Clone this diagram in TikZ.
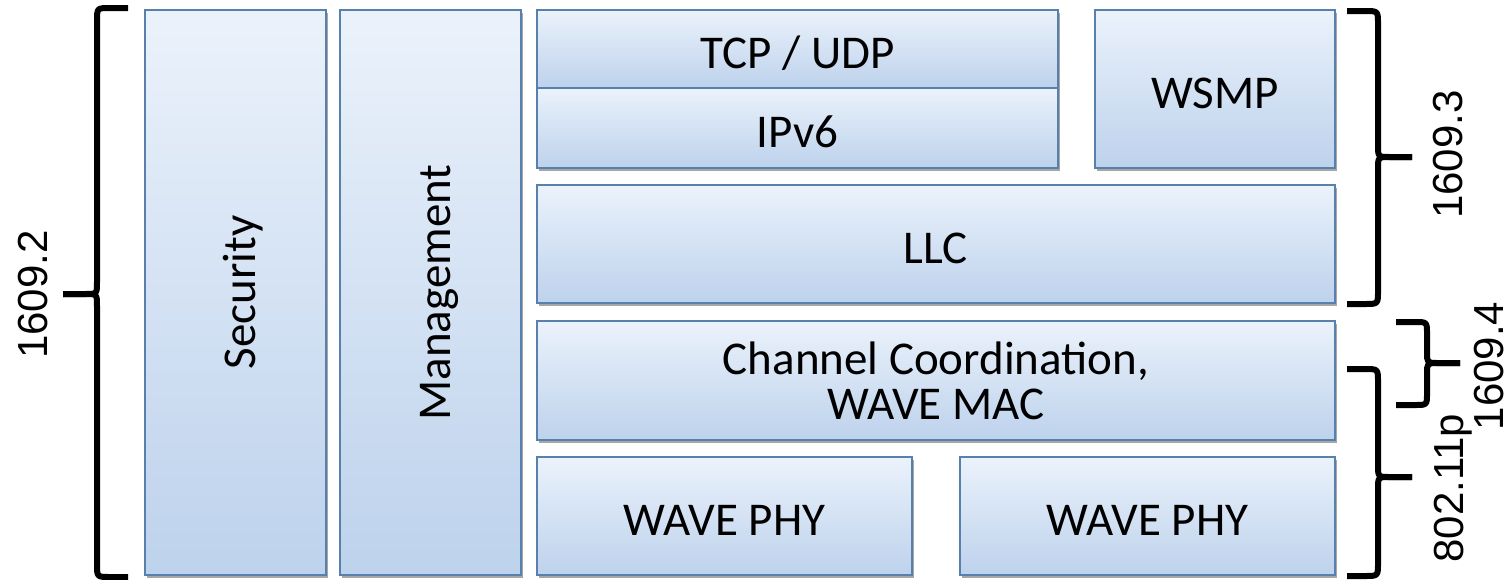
\documentclass[tikz,border=0pt]{standalone}
\usepackage{fontspec}
\setmainfont{Carlito}
\newfontfamily\labfont{Liberation Sans}
\usetikzlibrary{shadows}
\definecolor{boxtop}{RGB}{235,242,251}
\definecolor{boxbot}{RGB}{189,210,236}
\definecolor{boxline}{RGB}{88,128,172}
\newcommand\lyrtext[1]{\rule[-0.05em]{0pt}{0.95em}\smash{#1}}
\tikzset{
  layer/.style={draw=boxline, line width=1.8pt, top color=boxtop, bottom color=boxbot,
    inner sep=0pt, align=center, font=\fontsize{47}{45}\selectfont,
    drop shadow={shadow xshift=2pt, shadow yshift=-3pt, opacity=0.35, fill=black}},
  stdlabel/.style={font=\labfont\fontsize{42}{42}\selectfont, rotate=90, anchor=base, inner sep=0pt},
  bracefig/.style={line width=6pt, line join=round, line cap=butt}
}
\begin{document}
\begin{tikzpicture}[x=1pt,y=-1pt]
\useasboundingbox (0,0) rectangle (1509,579);
\fill[white] (0,0) rectangle (1509,579);
% boxes
\node[layer, minimum width=181pt, minimum height=565pt] (sec) at (235.5,292.5) {\rotatebox{90}{\lyrtext{Security}}};
\node[layer, minimum width=181pt, minimum height=565pt] (mgmt) at (430.5,292.5) {\rotatebox{90}{\lyrtext{Management}}};
\node[layer, minimum width=521pt, minimum height=78pt] (tcp) at (797.5,49) {\lyrtext{TCP / UDP}};
\node[layer, minimum width=521pt, minimum height=80pt] (ipv6) at (797.5,128) {\lyrtext{IPv6}};
\node[layer, minimum width=240pt, minimum height=158pt] (wsmp) at (1215,89) {\lyrtext{WSMP}};
\node[layer, minimum width=798pt, minimum height=118pt] (llc) at (936,244) {\lyrtext{LLC}};
\node[layer, minimum width=798pt, minimum height=119pt] (chan) at (936,380.5) {Channel Coordination,\\WAVE MAC};
\node[layer, minimum width=375pt, minimum height=118pt] (phya) at (724.5,516) {\lyrtext{WAVE PHY}};
\node[layer, minimum width=375pt, minimum height=118pt] (phyb) at (1147.5,516) {\lyrtext{WAVE PHY}};
% left brace 1609.2
\draw[bracefig] (128,8) -- (110,8) .. controls (97,8) .. (97,21) -- (97,282)
  .. controls (97,294) .. (85,294) -- (63,294);
\draw[bracefig] (63,294) -- (85,294) .. controls (97,294) .. (97,306) -- (97,564)
  .. controls (97,577) .. (110,577) -- (128,577);
% right brace 1609.3
\draw[bracefig] (1347,11) -- (1365,11) .. controls (1378,11) .. (1378,24) -- (1378,145)
  .. controls (1378,157) .. (1390,157) -- (1412,157);
\draw[bracefig] (1412,157) -- (1390,157) .. controls (1378,157) .. (1378,169) -- (1378,291)
  .. controls (1378,304) .. (1365,304) -- (1347,304);
% right brace 1609.4
\draw[bracefig] (1396,322) -- (1415,322) .. controls (1427,322) .. (1427,334) -- (1427,352)
  .. controls (1427,363) .. (1438,363) -- (1460,363);
\draw[bracefig] (1460,363) -- (1438,363) .. controls (1427,363) .. (1427,374) -- (1427,393)
  .. controls (1427,405) .. (1415,405) -- (1396,405);
% right brace 802.11p
\draw[bracefig] (1347,369) -- (1365,369) .. controls (1378,369) .. (1378,382) -- (1378,465)
  .. controls (1378,477) .. (1390,477) -- (1412,477);
\draw[bracefig] (1412,477) -- (1390,477) .. controls (1378,477) .. (1378,489) -- (1378,563)
  .. controls (1378,576) .. (1365,576) -- (1347,576);
% labels
\node[stdlabel] (l2) at (47,294.5) {1609.2};
\node[stdlabel] (l3) at (1462,154.5) {1609.3};
\node[stdlabel] (l4) at (1503,366) {1609.4};
\node[stdlabel] (l11p) at (1463,488) {802.11p};
\end{tikzpicture}
\end{document}
